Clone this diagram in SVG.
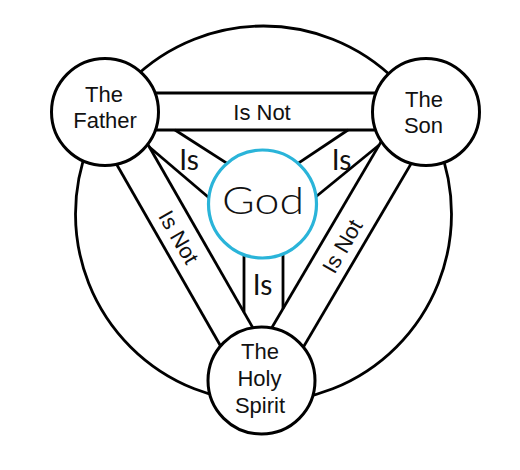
<svg xmlns="http://www.w3.org/2000/svg" width="520" height="470" viewBox="0 0 520 470">
  <style>
    .ln { stroke: #000; stroke-width: 2.8; fill: none; stroke-linecap: butt; }
    .node { fill: #fff; stroke: #000; stroke-width: 3; }
    .god { fill: #fff; stroke: #2ab4d9; stroke-width: 3.2; }
    .t { font-family: "Liberation Sans", Arial, sans-serif; fill: #111; text-anchor: middle; }
    .g { font-family: Lato, "Liberation Sans", sans-serif; font-weight: 400; fill: #111; text-anchor: middle; }
    .pl { font-size: 22px; }
    .isnot { font-size: 22px; }
    .is { font-size: 28px; }
    .godt { font-size: 37px; font-weight: 300; }
  </style>
  <rect width="520" height="470" fill="#fff"/>
  <g id="outer-ring">
    <circle cx="263.5" cy="214" r="188" class="ln" stroke-width="3"/>
  </g>
  <g id="connectors">
    <!-- Father - Son : Is Not -->
    <line class="ln" x1="105" y1="93" x2="426" y2="93"/>
    <line class="ln" x1="105" y1="130" x2="426" y2="130"/>
    <!-- Father - Spirit : Is Not -->
    <line class="ln" x1="91.95" y1="121.2" x2="245.9" y2="390.2"/>
    <line class="ln" x1="124.05" y1="102.8" x2="278.05" y2="371.8"/>
    <!-- Son - Spirit : Is Not -->
    <line class="ln" x1="404.05" y1="102.63" x2="246.05" y2="371.63"/>
    <line class="ln" x1="435.95" y1="121.37" x2="277.95" y2="390.37"/>
    <!-- Father - God : Is -->
    <line class="ln" x1="175" y1="130" x2="237.6" y2="170.1"/>
    <line class="ln" x1="149.3" y1="147" x2="218.4" y2="205.8"/>
    <!-- Son - God : Is -->
    <line class="ln" x1="348" y1="130" x2="287.5" y2="170.3"/>
    <line class="ln" x1="379.2" y1="145" x2="306.4" y2="204.5"/>
    <!-- Spirit - God : Is -->
    <line class="ln" x1="244" y1="240" x2="244" y2="312.3"/>
    <line class="ln" x1="283" y1="240" x2="283" y2="308.7"/>
  </g>
  <g id="labels">
    <text class="t isnot" x="262" y="120">Is Not</text>
    <text class="t isnot" transform="translate(179,237) rotate(60)" x="0" y="8">Is Not</text>
    <text class="t isnot" transform="translate(342,246) rotate(-60)" x="0" y="8">Is Not</text>
    <text class="g is" x="189" y="170">Is</text>
    <text class="g is" x="341.5" y="170">Is</text>
    <text class="g is" x="262.5" y="295">Is</text>
  </g>
  <g id="god">
    <circle class="god" cx="262.5" cy="204" r="54"/>
    <text class="g godt" x="263" y="214" textLength="82" lengthAdjust="spacingAndGlyphs">God</text>
  </g>
  <g id="father">
    <circle class="node" cx="105" cy="112" r="53.5"/>
    <text class="t pl" x="104" y="102">The</text>
    <text class="t pl" x="105" y="128">Father</text>
  </g>
  <g id="son">
    <circle class="node" cx="426" cy="112" r="53.5"/>
    <text class="t pl" x="424" y="107">The</text>
    <text class="t pl" x="423.5" y="133">Son</text>
  </g>
  <g id="holy-spirit">
    <circle class="node" cx="261.5" cy="380.5" r="53.5"/>
    <text class="t pl" x="260" y="359">The</text>
    <text class="t pl" x="259.5" y="386">Holy</text>
    <text class="t pl" x="260" y="413">Spirit</text>
  </g>
</svg>
